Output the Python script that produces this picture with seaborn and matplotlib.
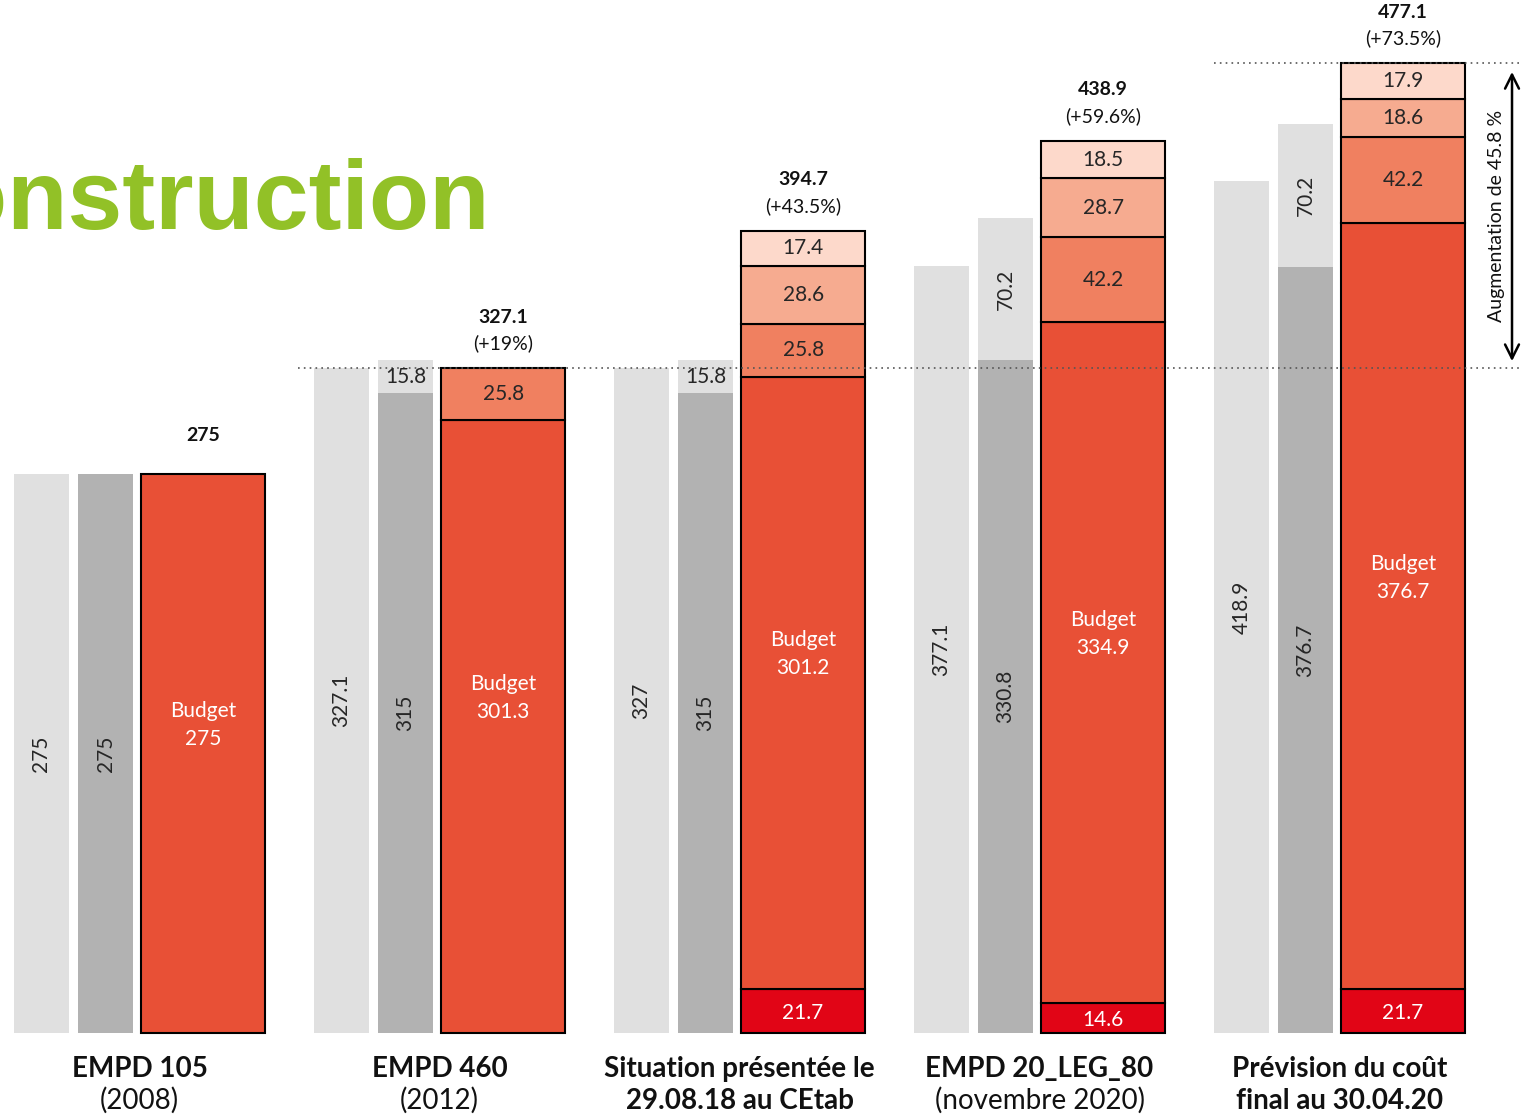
import matplotlib
matplotlib.use("Agg")
import matplotlib.pyplot as plt
import seaborn as sns
import numpy as np

sns.set_theme(style="white")
plt.rcParams['font.family'] = ['Lato', 'DejaVu Sans']

categories = ["EMPD 105", "EMPD 460", "Situation présentée le", "EMPD 20_LEG_80", "Prévision du coût"]
subtitles = ["(2008)", "(2012)", "29.08.18 au CEtab", "(novembre 2020)", "final au 30.04.20"]
sub_bold = [False, False, True, False, True]

light = [275, 327.1, 327, 377.1, 418.9]
light_lbl = ["275", "327.1", "327", "377.1", "418.9"]
mid = [275, 315, 315, 330.8, 376.7]
mid_lbl = ["275", "315", "315", "330.8", "376.7"]
mid_extra = [0, 15.8, 15.8, 70.2, 70.2]

bottom_red = [0, 0, 21.7, 14.6, 21.7]
budget = [275, 301.3, 301.2, 334.9, 376.7]
seg1 = [0, 25.8, 25.8, 42.2, 42.2]
seg2 = [0, 0, 28.6, 28.7, 18.6]
seg3 = [0, 0, 17.4, 18.5, 17.9]
totals = [275, 327.1, 394.7, 438.9, 477.1]
pcts = ["", "(+19%)", "(+43.5%)", "(+59.6%)", "(+73.5%)"]

c_light = "#e0e0e0"
c_mid = "#b2b2b2"
c_bottom = "#e10516"
c_budget = "#e85036"
c_seg1 = "#f08060"
c_seg2 = "#f6ab90"
c_seg3 = "#fdd9cb"

fig = plt.figure(figsize=(15.22, 11.16), dpi=100)
ax = fig.add_axes([0, 0, 1, 1])
scale = 2.033
ax.set_xlim(-0.465, 4.6083)
ax.set_ylim(-(1116 - 1033) / scale, 1033 / scale)
ax.axis("off")

x = np.arange(len(categories))
xl = x - 0.327
xm = x - 0.113
xr = x + 0.212
wg = 0.183
wr = 0.413

# gray bars
ax.bar(xl, light, width=wg, color=c_light, linewidth=0)
ax.bar(xm, mid, width=wg, color=c_mid, linewidth=0)
ax.bar(xm, mid_extra, bottom=mid, width=wg, color=c_light, linewidth=0)

# stacked red bars
stack = [(bottom_red, c_bottom), (budget, c_budget), (seg1, c_seg1), (seg2, c_seg2), (seg3, c_seg3)]
base = np.zeros(len(categories))
bases = []
for vals, col in stack:
    v = np.array(vals, dtype=float)
    mask = v > 0
    ax.bar(xr[mask], v[mask], bottom=base[mask], width=wr, color=col,
           edgecolor="black", linewidth=1.5)
    bases.append(base.copy())
    base = base + v

txt = "#262626"
fs = 15
for i in range(len(categories)):
    # gray labels
    ax.text(xl[i], light[i] / 2, light_lbl[i], rotation=90, ha="center", va="center",
            fontsize=fs, color=txt)
    ax.text(xm[i], mid[i] / 2, mid_lbl[i], rotation=90, ha="center", va="center",
            fontsize=fs, color=txt)
    if mid_extra[i] > 0:
        if mid_extra[i] > 30:
            ax.text(xm[i], mid[i] + mid_extra[i] / 2, f"{mid_extra[i]:g}", rotation=90,
                    ha="center", va="center", fontsize=fs, color=txt)
        else:
            ax.text(xm[i], mid[i] + mid_extra[i] / 2, f"{mid_extra[i]:g}",
                    ha="center", va="center", fontsize=fs, color=txt)
    # red stack labels
    if bottom_red[i] > 0:
        ax.text(xr[i], bottom_red[i] / 2 - 1, f"{bottom_red[i]:g}", ha="center", va="center",
                fontsize=fs, color="white")
    bcen = bases[1][i] + budget[i] / 2 + 14
    ax.text(xr[i], bcen, f"Budget\n{budget[i]:g}", ha="center", va="center",
            fontsize=fs, color="white", linespacing=1.5)
    for k, vals in [(2, seg1), (3, seg2), (4, seg3)]:
        if vals[i] > 0:
            ax.text(xr[i], bases[k][i] + vals[i] / 2, f"{vals[i]:g}", ha="center",
                    va="center", fontsize=fs, color=txt)
    # totals
    if pcts[i]:
        ax.text(xr[i], totals[i] + 25, f"{totals[i]:g}", ha="center", va="center",
                fontsize=14, fontweight="bold", color="#111111")
        ax.text(xr[i], totals[i] + 12, pcts[i], ha="center", va="center",
                fontsize=14, color="#111111")
    else:
        ax.text(xr[i], totals[i] + 19, f"{totals[i]:g}", ha="center", va="center",
                fontsize=14, fontweight="bold", color="#111111")
    # category labels
    ax.text(x[i], -17.8, categories[i], ha="center", va="center", fontsize=20,
            fontweight="bold", color="#111111")
    ax.text(x[i], -33.3, subtitles[i], ha="center", va="center", fontsize=20,
            fontweight="bold" if sub_bold[i] else "normal", color="#111111")

# dotted reference lines
ax.plot([0.528, 4.61], [totals[1], totals[1]], linestyle=(0, (1, 2.5)), color="#555555", lw=1.2)
ax.plot([3.582, 4.61], [totals[4], totals[4]], linestyle=(0, (1, 2.5)), color="#555555", lw=1.2)

# double arrow
ax.annotate("", xy=(4.575, totals[4] - 3), xytext=(4.575, totals[1] + 2),
            arrowprops=dict(arrowstyle="<->", color="black", lw=1.8, mutation_scale=25))
ax.text(4.522, (totals[4] + totals[1]) / 2, "Augmentation de 45.8 %", rotation=90,
        ha="center", va="center", fontsize=14, color="#111111")

# title fragment
ax.text(1.168, 1033 / scale - 229 / scale, "construction", ha="right", va="baseline", fontsize=71,
        fontweight="bold", color="#92c127", family=["Liberation Sans", "DejaVu Sans"])

fig.savefig("out.png", dpi=100)
